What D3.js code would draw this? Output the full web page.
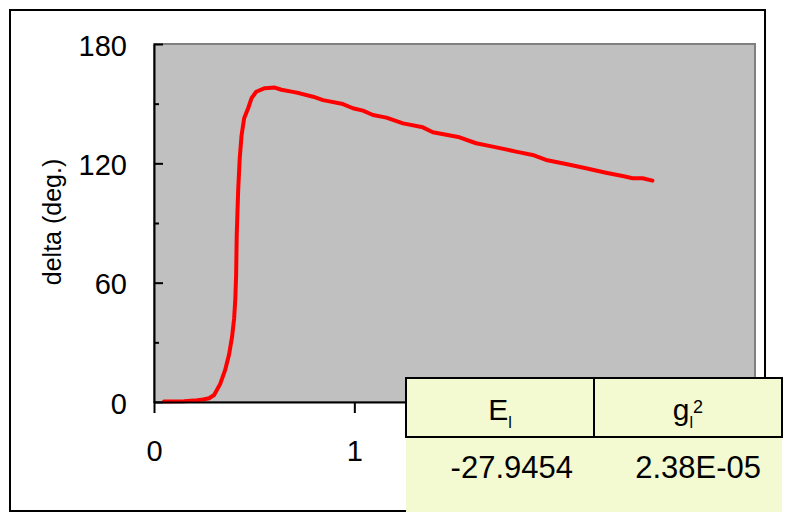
<!DOCTYPE html>
<html>
<head>
<meta charset="utf-8">
<script src="https://cdn.jsdelivr.net/npm/d3@7"></script>
<style>
  html, body { margin: 0; padding: 0; background: #fff; }
  svg { display: block; font-family: "Liberation Sans", Arial, sans-serif; }
</style>
</head>
<body>
<svg id="chart" width="789" height="512"></svg>
<script>
// Phase angle delta (deg.) against x
const xValues = [0.05, 0.15, 0.20, 0.245, 0.275, 0.30, 0.33, 0.355, 0.375, 0.39, 0.40, 0.406, 0.41, 0.413,
  0.42, 0.428, 0.437, 0.45, 0.47, 0.487, 0.51, 0.553, 0.603, 0.636, 0.70, 0.727, 0.794, 0.844,
  0.943, 0.993, 1.043, 1.093, 1.16, 1.243, 1.342, 1.392, 1.525, 1.608, 1.691, 1.807, 1.89,
  1.957, 2.057, 2.156, 2.256, 2.339, 2.389, 2.439, 2.488];
const deltaValues = [0.3, 0.4, 0.7, 1.3, 1.9, 3.5, 9, 16, 24, 33, 42, 52, 64, 84,
  106, 122.6, 134, 142.7, 147.7, 152.8, 156, 157.8, 158.1, 157, 155.8, 155.2, 153.5, 151.8,
  149.8, 147.7, 146.5, 144.3, 143, 140.1, 138.1, 135.6, 133.1, 130.1, 128.4, 125.9, 124.2,
  121.7, 119.7, 117.5, 115.3, 113.6, 112.5, 112.5, 111.3];

// Axis ticks
const xTicks = [0, 1, 2, 3];
const yMajorTicks = [0, 60, 120, 180];
const yMinorTicks = [30, 90, 150];

// Fit-result table
const tableHeaders = [["E", "l", null], ["g", "l", "2"]];
const tableValues = ["-27.9454", "2.38E-05"];

const svg = d3.select("#chart");

const plot = { left: 154, top: 44, right: 755, bottom: 402 };
const tbl = { left: 406, right: 782, top: 378, mid: 437, split: 594 };
const x = d3.scaleLinear().domain([0, 3]).range([plot.left, plot.right]);
const y = d3.scaleLinear().domain([0, 180]).range([plot.bottom, plot.top]);

// outer chart frame
svg.append("rect")
  .attr("x", 10).attr("y", 10).attr("width", 755).attr("height", 501)
  .attr("fill", "#fff").attr("stroke", "#000").attr("stroke-width", 2);

// plot area
svg.append("rect")
  .attr("x", plot.left).attr("y", plot.top)
  .attr("width", plot.right - plot.left).attr("height", plot.bottom - plot.top)
  .attr("fill", "#c0c0c0").attr("stroke", "#808080").attr("stroke-width", 2);

// data line
const pts = xValues.map((v, i) => [v, deltaValues[i]]);
svg.append("path")
  .datum(pts)
  .attr("fill", "none")
  .attr("stroke", "#ff0000")
  .attr("stroke-width", 4)
  .attr("stroke-linejoin", "round")
  .attr("stroke-linecap", "round")
  .attr("d", d3.line().x(d => x(d[0])).y(d => y(d[1])));

// y axis (ticks point into the plot)
const yAxis = svg.append("g")
  .attr("transform", `translate(${plot.left},0)`)
  .call(d3.axisLeft(y).tickValues(yMajorTicks).tickSize(-9).tickSizeOuter(0)
    .tickPadding(27).tickFormat(d3.format("d")));
svg.append("g")
  .attr("transform", `translate(${plot.left},0)`)
  .call(d3.axisLeft(y).tickValues(yMinorTicks).tickSize(-5).tickFormat(""))
  .call(g => g.select(".domain").remove());

// x axis
const xAxis = svg.append("g")
  .attr("transform", `translate(0,${plot.bottom})`)
  .call(d3.axisBottom(x).tickValues(xTicks).tickSize(11).tickSizeOuter(0)
    .tickPadding(27).tickFormat(d3.format("d")));
// labels that fall underneath the table are not drawn
xAxis.selectAll(".tick").filter(d => x(d) > tbl.left).select("text").remove();

svg.selectAll(".domain, .tick line")
  .attr("stroke", "#000").attr("stroke-width", 2);
svg.selectAll(".tick text")
  .attr("fill", "#000").attr("font-size", 29)
  .attr("font-family", "Liberation Sans, Arial, sans-serif");
yAxis.selectAll(".tick text").attr("dy", "0.39em");

// y axis title
svg.append("text")
  .attr("transform", "translate(61,222) rotate(-90)")
  .attr("text-anchor", "middle")
  .attr("font-size", 25)
  .attr("fill", "#000")
  .text("delta (deg.)");

// fit-result table
const cols = [[tbl.left, tbl.split], [tbl.split, tbl.right]];

svg.append("rect")
  .attr("x", tbl.left).attr("y", tbl.mid)
  .attr("width", tbl.right - tbl.left).attr("height", 90)
  .attr("fill", "#f3f9d0");

svg.selectAll("rect.hdr")
  .data(cols)
  .join("rect")
  .attr("class", "hdr")
  .attr("x", d => d[0]).attr("y", tbl.top)
  .attr("width", d => d[1] - d[0]).attr("height", tbl.mid - tbl.top)
  .attr("fill", "#f3f9d0").attr("stroke", "#000").attr("stroke-width", 2);

tableHeaders.forEach((h, i) => {
  const t = svg.append("text")
    .attr("x", (cols[i][0] + cols[i][1]) / 2)
    .attr("y", 420)
    .attr("text-anchor", "middle")
    .attr("font-size", 30)
    .attr("fill", "#000");
  t.append("tspan").text(h[0]);
  t.append("tspan").attr("font-size", 16).attr("dy", 8).text(h[1]);
  if (h[2]) t.append("tspan").attr("font-size", 18).attr("dy", -15).text(h[2]);
});

tableValues.forEach((v, i) => {
  svg.append("text")
    .attr("x", cols[i][1] - 21)
    .attr("y", 478)
    .attr("text-anchor", "end")
    .attr("font-size", 31)
    .attr("fill", "#000")
    .text(v);
});
</script>
</body>
</html>
